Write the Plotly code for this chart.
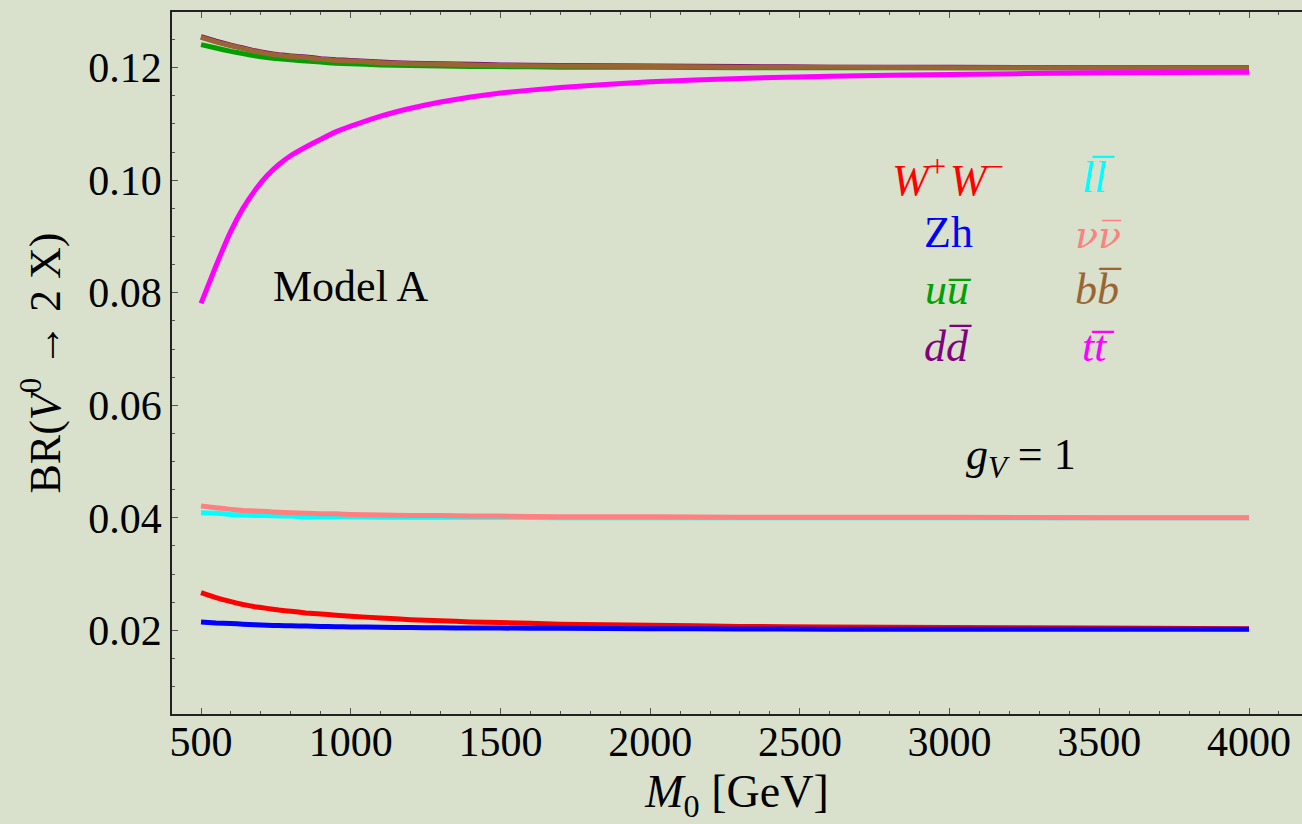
import plotly.graph_objects as go

# ---------------- data ----------------
mass = [500, 550, 600, 640, 680, 720, 760, 800, 850, 900, 950, 1000, 1100, 1200,
        1300, 1400, 1500, 1700, 2000, 2300, 2600, 3000, 3500, 4000]

br_ww = [0.0267, 0.0258, 0.0251, 0.0246, 0.0242, 0.0239, 0.0236, 0.0234, 0.0231, 0.0229,
         0.0227, 0.0225, 0.0222, 0.0219, 0.0217, 0.0215, 0.0214, 0.0211, 0.0209, 0.0207,
         0.0206, 0.0205, 0.0204, 0.0203]
br_zh = [0.0215, 0.0213, 0.0212, 0.0211, 0.0210, 0.0209, 0.02085, 0.0208, 0.02075, 0.0207,
         0.02065, 0.0206, 0.02055, 0.0205, 0.02045, 0.0204, 0.0204, 0.02035, 0.0203, 0.02025,
         0.0202, 0.0202, 0.0202, 0.0202]
br_uu = [0.1241, 0.1235, 0.1229, 0.1225, 0.1221, 0.1218, 0.1216, 0.1214, 0.1212, 0.1210,
         0.1208, 0.1207, 0.1205, 0.1204, 0.1203, 0.1202, 0.1202, 0.1201, 0.1201, 0.1200,
         0.1200, 0.1200, 0.1200, 0.1200]
br_dd = [0.1255, 0.1247, 0.1240, 0.1235, 0.1230, 0.1226, 0.1223, 0.1221, 0.1219, 0.1216,
         0.1214, 0.1213, 0.1210, 0.1208, 0.1207, 0.1206, 0.1205, 0.1204, 0.1203, 0.1202,
         0.1201, 0.1201, 0.1200, 0.1200]
br_ll = [0.0409, 0.0408, 0.0406, 0.0405, 0.0404, 0.0404, 0.0403, 0.0403, 0.0402, 0.0402,
         0.0402, 0.0402, 0.0401, 0.0401, 0.0401, 0.0401, 0.0401, 0.0400, 0.0400, 0.0400,
         0.0400, 0.0400, 0.0400, 0.0400]
br_nn = [0.0421, 0.0418, 0.0415, 0.0413, 0.0412, 0.0411, 0.0410, 0.0409, 0.0408, 0.0407,
         0.0407, 0.0406, 0.0405, 0.0404, 0.0404, 0.0403, 0.0403, 0.0402, 0.0402, 0.0401,
         0.0401, 0.0401, 0.0400, 0.0400]
br_bb = [0.1254, 0.1246, 0.1239, 0.1234, 0.1229, 0.1225, 0.1222, 0.1220, 0.1218, 0.1215,
         0.1213, 0.1212, 0.1209, 0.1207, 0.1206, 0.1205, 0.1204, 0.1203, 0.1202, 0.1201,
         0.1201, 0.1200, 0.1200, 0.1200]
br_tt = [0.0781, 0.0848, 0.0910, 0.0950, 0.0982, 0.1008, 0.1028, 0.1044, 0.1059, 0.1073,
         0.1086, 0.1096, 0.1114, 0.1128, 0.1139, 0.1148, 0.1155, 0.1165, 0.1175, 0.1181,
         0.1185, 0.1188, 0.1191, 0.1192]

series = [
    ("WW", br_ww, "#ff0000"),
    ("Zh", br_zh, "#0000ff"),
    ("uu", br_uu, "#00a000"),
    ("dd", br_dd, "#800080"),
    ("ll", br_ll, "#00ffff"),
    ("nunu", br_nn, "#ff8080"),
    ("bb", br_bb, "#996633"),
    ("tt", br_tt, "#ff00ff"),
]

x_ticks = [500, 1000, 1500, 2000, 2500, 3000, 3500, 4000]
y_ticks = [0.02, 0.04, 0.06, 0.08, 0.10, 0.12]
y_tick_labels = ["0.02", "0.04", "0.06", "0.08", "0.10", "0.12"]

# ---------------- figure ----------------
W, H = 1302, 824
L, R, T, B = 172, 0, 12, 110
BG = "#d9e0cc"
SERIF = "Liberation Serif"

fig = go.Figure()
for name, ys, col in series:
    fig.add_trace(go.Scatter(x=mass, y=ys, mode="lines", name=name,
                             line=dict(color=col, width=5, shape="spline", smoothing=0.3),
                             showlegend=False, hoverinfo="skip"))

def px(xp, yp):
    return (xp - L) / (W - L - R), (H - B - yp) / (H - T - B)

BAR = "\u0305"
labels = [
    ("<i>W</i><sup>+</sup>\u200a<i>W</i><sup>−</sup>", 948, 177, "#ff0000", SERIF, 44),
    ("Zh", 948, 233, "#0000ff", SERIF, 44),
    ("<i>u</i><i>u" + BAR + "</i>", 948, 289, "#00a000", SERIF, 44),
    ("<i>d</i><i>d" + BAR + "</i>", 948, 346, "#800080", SERIF, 44),
    ("<i>l</i><i>l" + BAR + "</i>", 1098, 177, "#00ffff", SERIF, 44),
    ("<i>ν</i><i>ν" + BAR + "</i>", 1098, 235, "#ff8080", "DejaVu Serif", 38),
    ("<i>b</i><i>b" + BAR + "</i>", 1098, 289, "#996633", SERIF, 44),
    ("<i>t</i><i>t" + BAR + "</i>", 1098, 346, "#ff00ff", SERIF, 44),
    ("Model A", 350, 286, "#000000", SERIF, 44),
    ("<i>g</i><sub><i>V</i></sub> = 1", 1021, 457, "#000000", SERIF, 44),
]
for txt, xp, yp, col, fam, sz in labels:
    ax, ay = px(xp, yp)
    fig.add_annotation(text=txt, x=ax, y=ay, xref="paper", yref="paper",
                       xanchor="center", yanchor="middle", showarrow=False,
                       font=dict(family=fam, size=sz, color=col))

axis_common = dict(
    showgrid=False, zeroline=False, showline=True, linecolor="#222222", linewidth=1.5,
    ticks="inside", ticklen=6, tickwidth=1.3, tickcolor="#555555",
    tickfont=dict(family=SERIF, size=42, color="#000000"),
)

fig.update_xaxes(
    range=[403, 4177], tickvals=x_ticks, ticktext=[str(v) for v in x_ticks],
    mirror="ticks", ticklabelstandoff=-10,
    minor=dict(dtick=100, tick0=0, ticks="inside", ticklen=3.5, tickwidth=1.2, tickcolor="#555555"),
    title=dict(text="<i>M</i><sub>0</sub> [GeV]", font=dict(family=SERIF, size=46, color="#000000"),
               standoff=16),
    **axis_common,
)
fig.update_yaxes(
    range=[0.00513, 0.1299], tickvals=y_ticks, ticktext=y_tick_labels,
    mirror=False,
    minor=dict(dtick=0.005, tick0=0, ticks="inside", ticklen=3.5, tickwidth=1.2, tickcolor="#555555"),
    title=dict(text="BR(<i>V</i><sup>0</sup> → 2 X)", font=dict(family=SERIF, size=44, color="#000000"),
               standoff=14),
    **axis_common,
)

fig.update_layout(
    width=W, height=H,
    margin=dict(l=L, r=R, t=T, b=B, pad=0),
    paper_bgcolor=BG, plot_bgcolor=BG,
    showlegend=False,
)

fig.write_html("out.html")
